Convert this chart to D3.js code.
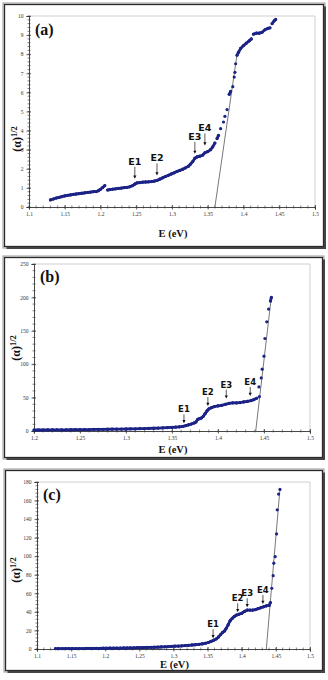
<!DOCTYPE html>
<html>
<head>
<meta charset="utf-8">
<script src="https://cdn.jsdelivr.net/npm/d3@7"></script>
<style>
  body { margin: 0; background: #fff; }
  svg { display: block; }
</style>
</head>
<body>
<svg id="chart" width="328" height="680"></svg>
<script>
// ---- panel (a) data ----
var aE = [1.130, 1.134, 1.138, 1.142, 1.146, 1.150, 1.154, 1.158, 1.162, 1.166, 1.170, 1.174, 1.178, 1.182, 1.186, 1.190, 1.194, 1.197,
          1.200, 1.203, 1.206, 1.210, 1.213, 1.217, 1.221, 1.225, 1.229, 1.233, 1.237, 1.241, 1.245, 1.248, 1.251, 1.255, 1.259, 1.263,
          1.267, 1.271, 1.275, 1.279, 1.283, 1.287, 1.291, 1.295, 1.299, 1.303, 1.307, 1.311, 1.315, 1.319, 1.323, 1.326, 1.329, 1.332,
          1.335, 1.339, 1.343, 1.346, 1.350, 1.354, 1.357, 1.360, 1.363, 1.365, 1.368, 1.372, 1.374, 1.377, 1.380, 1.382, 1.385, 1.387,
          1.388, 1.389, 1.391, 1.393, 1.396, 1.400, 1.404, 1.408, 1.411, 1.414, 1.418, 1.422, 1.426, 1.430, 1.434, 1.437, 1.440, 1.443, 1.445]
var aY = [0.37, 0.42, 0.47, 0.50, 0.54, 0.58, 0.61, 0.63, 0.66, 0.68, 0.70, 0.72, 0.74, 0.76, 0.78, 0.80, 0.81, 0.85,
          0.93, 1.02, 1.12, 0.89, 0.91, 0.93, 0.95, 0.97, 0.99, 1.01, 1.03, 1.06, 1.12, 1.20, 1.26, 1.28, 1.30, 1.31,
          1.32, 1.33, 1.35, 1.39, 1.46, 1.53, 1.60, 1.66, 1.73, 1.79, 1.86, 1.92, 1.98, 2.05, 2.14, 2.25, 2.38, 2.55,
          2.62, 2.66, 2.72, 2.84, 2.90, 3.00, 3.15, 3.35, 3.58, 3.75, 4.10, 4.45, 4.75, 5.10, 5.90, 6.05, 6.30, 6.80,
          7.05, 7.50, 7.95, 8.10, 8.30, 8.45, 8.58, 8.70, 8.80, 9.05, 9.10, 9.10, 9.15, 9.28, 9.35, 9.38, 9.60, 9.75, 9.82]
var aFitE = [1.360, 1.391]
var aFitY = [0, 8.0]
var aMarks = ["E1", "E2", "E3", "E4"]
var aMarkE = [1.248, 1.279, 1.332, 1.346]
var aMarkY = [1.43, 1.60, 2.73, 3.17]
var aXTicks = [1.1, 1.15, 1.2, 1.25, 1.3, 1.35, 1.4, 1.45, 1.5]
var aYTicks = [0, 1, 2, 3, 4, 5, 6, 7, 8, 9, 10]

// ---- panel (b) data ----
var bE = [1.200, 1.205, 1.210, 1.215, 1.220, 1.225, 1.230, 1.235, 1.240, 1.245, 1.250, 1.255, 1.260, 1.265, 1.270, 1.275, 1.280,
          1.285, 1.290, 1.295, 1.300, 1.305, 1.310, 1.315, 1.320, 1.325, 1.330, 1.335, 1.340, 1.345, 1.350, 1.354, 1.358, 1.362,
          1.365, 1.368, 1.371, 1.374, 1.376, 1.378, 1.380, 1.382, 1.384, 1.386, 1.388, 1.390, 1.393, 1.396, 1.400, 1.404, 1.408,
          1.412, 1.416, 1.420, 1.424, 1.428, 1.432, 1.436, 1.439, 1.442, 1.445, 1.4445, 1.447, 1.448, 1.450, 1.451, 1.453, 1.455, 1.457, 1.458]
var bY = [1.5, 1.5, 1.5, 1.6, 1.6, 1.7, 1.7, 1.8, 1.9, 2.0, 2.0, 2.1, 2.2, 2.3, 2.4, 2.5, 2.6,
          2.7, 2.8, 2.9, 3.0, 3.2, 3.3, 3.5, 3.7, 3.9, 4.1, 4.4, 4.7, 5.0, 5.3, 5.7, 6.2, 7.0,
          8.0, 9.2, 10.5, 12, 13.5, 17.5, 18.5, 19.5, 22, 26, 30, 33, 35, 36.5, 37.5, 38.5, 40,
          41.5, 42, 42, 42.5, 43.5, 44.5, 45.5, 47, 49, 51.5, 66, 79.5, 92.5, 112, 138.5, 163.5, 182.5, 194.5, 200]
var bFitE = [1.441, 1.458]
var bFitY = [0, 201]
var bMarks = ["E1", "E2", "E3", "E4"]
var bMarkE = [1.363, 1.389, 1.409, 1.435]
var bMarkY = [10, 36, 47, 51]
var bXTicks = [1.2, 1.25, 1.3, 1.35, 1.4, 1.45, 1.5]
var bYTicks = [0, 50, 100, 150, 200, 250]

// ---- panel (c) data ----
var cE = [1.127, 1.132, 1.137, 1.142, 1.147, 1.152, 1.157, 1.162, 1.167, 1.172, 1.177, 1.182, 1.187, 1.192, 1.197, 1.202, 1.207,
          1.212, 1.217, 1.222, 1.227, 1.232, 1.237, 1.242, 1.247, 1.252, 1.257, 1.262, 1.267, 1.272, 1.277, 1.282, 1.287, 1.292,
          1.297, 1.302, 1.307, 1.312, 1.317, 1.322, 1.327, 1.332, 1.337, 1.342, 1.347, 1.351, 1.355, 1.359, 1.363, 1.366, 1.369,
          1.372, 1.375, 1.377, 1.380, 1.383, 1.386, 1.389, 1.392, 1.396, 1.400, 1.404, 1.408, 1.412, 1.416, 1.420, 1.424, 1.428,
          1.432, 1.436, 1.440, 1.442, 1.444, 1.446, 1.447, 1.449, 1.451, 1.452, 1.454, 1.456]
var cY = [0.3, 0.3, 0.3, 0.4, 0.4, 0.4, 0.5, 0.5, 0.5, 0.6, 0.6, 0.6, 0.7, 0.7, 0.8, 0.8, 0.9,
          0.9, 1.0, 1.0, 1.1, 1.1, 1.2, 1.3, 1.4, 1.5, 1.6, 1.7, 1.8, 1.9, 2.0, 2.2, 2.4, 2.6,
          2.8, 3.0, 3.2, 3.4, 3.7, 4.0, 4.3, 4.6, 5.0, 5.5, 6.2, 7.0, 8.2, 9.5, 11, 13, 15.5,
          18, 19.5, 22, 26, 30.5, 33, 35, 36.5, 37.5, 38.5, 40.5, 42, 42, 42, 42.5, 43.5, 44.5,
          45.5, 46.5, 47, 50, 65.5, 79, 92.5, 99.5, 124, 150, 167, 172]
var cFitE = [1.436, 1.456]
var cFitY = [0, 172.5]
var cMarks = ["E1", "E2", "E3", "E4"]
var cMarkE = [1.358, 1.394, 1.408, 1.431]
var cMarkY = [10.5, 38.5, 44, 47.5]
var cXTicks = [1.1, 1.15, 1.2, 1.25, 1.3, 1.35, 1.4, 1.45, 1.5]
var cYTicks = [0, 20, 40, 60, 80, 100, 120, 140, 160, 180]

var dotColor = "#1c2386"
var svg = d3.select("#chart")

// draws one framed panel
function Panel(options) {
    var frame = options.frame,
        plot = options.plot,
        E = options.E,
        Y = options.Y

    var g = svg.append("g")

    // frame: grey outer line, dark inner line, shadow right/bottom
    g.append("rect")
        .attr("x", frame.x - 1.5).attr("y", frame.y - 1.5)
        .attr("width", frame.w + 3).attr("height", frame.h + 3)
        .attr("fill", "none").attr("stroke", "#9a9a9a").attr("stroke-width", 1)
    g.append("rect")
        .attr("x", frame.x).attr("y", frame.y)
        .attr("width", frame.w).attr("height", frame.h)
        .attr("fill", "#fff").attr("stroke", "#2a2a2a").attr("stroke-width", 1.3)
    g.append("path")
        .attr("d", "M" + (frame.x + frame.w + 1.5) + "," + (frame.y + 2) + "V" + (frame.y + frame.h + 1.5) + "H" + (frame.x + 2))
        .attr("fill", "none").attr("stroke", "#444").attr("stroke-width", 2)

    var x = d3.scaleLinear().domain(options.xDomain).range([plot.left, plot.right])
    var y = d3.scaleLinear().domain(options.yDomain).range([plot.bottom, plot.top])

    // plot box top/right
    g.append("path")
        .attr("d", "M" + plot.left + "," + plot.top + "H" + plot.right + "V" + plot.bottom)
        .attr("fill", "none").attr("stroke", "#c4c4c4").attr("stroke-width", 0.8)

    // minor ticks
    var xm = d3.range(options.xDomain[0], options.xDomain[1] + 1e-9, options.xMinor)
    var ym = d3.range(options.yDomain[0], options.yDomain[1] + 1e-9, options.yMinor)
    g.append("g").selectAll("line").data(xm).enter().append("line")
        .attr("x1", d => x(d)).attr("x2", d => x(d))
        .attr("y1", plot.bottom - 1.5).attr("y2", plot.bottom + 1.5)
        .attr("stroke", "#333").attr("stroke-width", 0.6)
    g.append("g").selectAll("line").data(ym).enter().append("line")
        .attr("x1", plot.left - 1.5).attr("x2", plot.left + 1.5)
        .attr("y1", d => y(d)).attr("y2", d => y(d))
        .attr("stroke", "#333").attr("stroke-width", 0.6)

    // axes
    var xAxis = g.append("g")
        .attr("transform", "translate(0," + plot.bottom + ")")
        .call(d3.axisBottom(x).tickValues(options.xTicks).tickSize(2.5).tickPadding(3).tickFormat(d3.format("")))
    var yAxis = g.append("g")
        .attr("transform", "translate(" + plot.left + ",0)")
        .call(d3.axisLeft(y).tickValues(options.yTicks).tickSize(2.5).tickPadding(3).tickFormat(d3.format("")))
    xAxis.selectAll(".tick line").attr("y1", -2)
    yAxis.selectAll(".tick line").attr("x1", 2)
    ;[xAxis, yAxis].forEach(function(a) {
        a.select(".domain").attr("stroke", "#333").attr("stroke-width", 0.9)
        a.selectAll(".tick line").attr("stroke", "#333").attr("stroke-width", 0.7)
        a.selectAll("text").attr("font-family", "'Liberation Serif', serif").attr("font-size", 5.5).attr("fill", "#333")
    })

    // fit line
    g.append("line")
        .attr("x1", x(options.fitE[0])).attr("y1", y(options.fitY[0]))
        .attr("x2", x(options.fitE[1])).attr("y2", y(options.fitY[1]))
        .attr("stroke", "#555").attr("stroke-width", 0.8)

    // data: join close neighbours so the dense runs read as a thick line
    var pts = E.map((e, i) => [x(e), y(Y[i])]).sort((p, q) => p[0] - q[0])
    var segs = d3.pairs(pts).filter(p => Math.hypot(p[1][0] - p[0][0], p[1][1] - p[0][1]) < 4.7)
    g.append("g").selectAll("line").data(segs).enter().append("line")
        .attr("x1", d => d[0][0]).attr("y1", d => d[0][1])
        .attr("x2", d => d[1][0]).attr("y2", d => d[1][1])
        .attr("stroke", dotColor).attr("stroke-width", 2.8).attr("stroke-linecap", "round")
    g.append("g").selectAll("circle").data(pts).enter().append("circle")
        .attr("cx", d => d[0]).attr("cy", d => d[1]).attr("r", 1.6)
        .attr("fill", dotColor)

    // E markers with arrows
    options.marks.forEach(function(m, i) {
        var mx = x(options.markE[i]), ty = y(options.markY[i]) - 1
        g.append("line")
            .attr("x1", mx).attr("x2", mx)
            .attr("y1", ty - options.arrowLen).attr("y2", ty - 2)
            .attr("stroke", "#111").attr("stroke-width", 0.7)
        g.append("path")
            .attr("d", "M" + (mx - 1.6) + "," + (ty - 3.2) + "L" + (mx + 1.6) + "," + (ty - 3.2) + "L" + mx + "," + ty + "Z")
            .attr("fill", "#111")
        g.append("text")
            .attr("x", mx).attr("y", ty - options.arrowLen - 2)
            .attr("text-anchor", "middle")
            .attr("font-family", "'DejaVu Sans', sans-serif").attr("font-weight", "bold")
            .attr("font-size", options.markSize).attr("fill", "#111")
            .text(m)
    })

    // panel letter
    g.append("text")
        .attr("x", plot.left + 6).attr("y", options.titleY)
        .attr("font-family", "'Liberation Serif', serif").attr("font-weight", "bold")
        .attr("font-size", 16).attr("fill", "#111")
        .text(options.title)

    // axis titles
    g.append("text")
        .attr("x", (plot.left + plot.right) / 2 + 1).attr("y", options.xLabelY)
        .attr("text-anchor", "middle")
        .attr("font-family", "'Liberation Serif', serif").attr("font-weight", "bold")
        .attr("font-size", 10.5).attr("fill", "#111")
        .text("E (eV)")

    var yl = g.append("text")
        .attr("transform", "translate(" + options.yLabelX + "," + options.yLabelMid + ") rotate(-90)")
        .attr("text-anchor", "middle")
        .attr("font-family", "'Liberation Serif', serif").attr("font-weight", "bold")
        .attr("font-size", 12).attr("fill", "#111")
    yl.append("tspan").text("(α)")
    yl.append("tspan").attr("dy", -4.5).attr("font-size", 8.5).text("1/2")
}

Panel({
    frame: {x: 4.5, y: 4.5, w: 319, h: 242},
    plot: {left: 29, right: 315, top: 16, bottom: 207},
    xDomain: [1.1, 1.5], yDomain: [0, 10],
    xTicks: aXTicks, yTicks: aYTicks, xMinor: 0.01, yMinor: 0.2,
    E: aE, Y: aY, fitE: aFitE, fitY: aFitY,
    marks: aMarks, markE: aMarkE, markY: aMarkY, arrowLen: 12, markSize: 9.5,
    title: "(a)", titleY: 35, xLabelY: 237, yLabelX: 21, yLabelMid: 139
})

Panel({
    frame: {x: 4.5, y: 257.5, w: 318, h: 200},
    plot: {left: 34, right: 310, top: 264, bottom: 431},
    xDomain: [1.2, 1.5], yDomain: [0, 250],
    xTicks: bXTicks, yTicks: bYTicks, xMinor: 0.01, yMinor: 10,
    E: bE, Y: bY, fitE: bFitE, fitY: bFitY,
    marks: bMarks, markE: bMarkE, markY: bMarkY, arrowLen: 9, markSize: 8.5,
    title: "(b)", titleY: 282, xLabelY: 453, yLabelX: 20, yLabelMid: 348
})

Panel({
    frame: {x: 5.5, y: 470.5, w: 317, h: 200},
    plot: {left: 37, right: 310, top: 482, bottom: 649},
    xDomain: [1.1, 1.5], yDomain: [0, 180],
    xTicks: cXTicks, yTicks: cYTicks, xMinor: 0.01, yMinor: 4,
    E: cE, Y: cY, fitE: cFitE, fitY: cFitY,
    marks: cMarks, markE: cMarkE, markY: cMarkY, arrowLen: 9, markSize: 8.5,
    title: "(c)", titleY: 500, xLabelY: 667.5, yLabelX: 20, yLabelMid: 570
})
</script>
</body>
</html>
